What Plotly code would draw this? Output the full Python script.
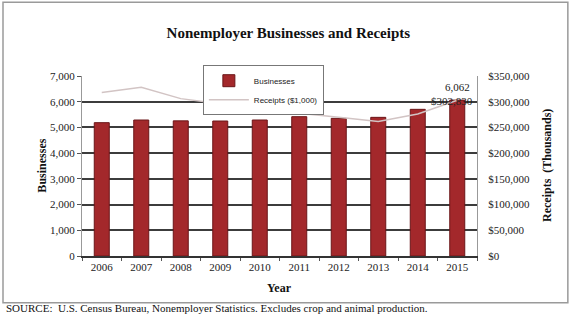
import plotly.graph_objects as go

years = ["2006", "2007", "2008", "2009", "2010", "2011", "2012", "2013", "2014", "2015"]
businesses = [5185, 5289, 5255, 5250, 5289, 5418, 5354, 5392, 5704, 6062]
receipts = [318000, 328000, 306000, 296000, 290000, 277500, 269700, 261500, 276000, 302830]

FONT = "Liberation Serif"
BAR_RED = "#A3282B"
last = len(years) - 1

fig = go.Figure()

fig.add_trace(go.Bar(
    x=years, y=businesses, name="Businesses",
    marker=dict(color=BAR_RED, line=dict(color="#6B1618", width=1)),
    width=0.38,
))
fig.add_trace(go.Scatter(
    x=years, y=receipts, name="Receipts ($1,000)", yaxis="y2",
    mode="lines", line=dict(color="#D2C4C4", width=1.5),
))

# data labels on the last year
fig.add_annotation(x=last, y=businesses[-1], yref="y", text=f"{businesses[-1]:,}",
                   showarrow=False, yshift=13, font=dict(family=FONT, size=11, color="#222"))
fig.add_annotation(x=last, y=receipts[-1], yref="y2", text=f"${receipts[-1]:,}",
                   showarrow=False, yshift=-1, xshift=-5,
                   font=dict(family=FONT, size=11, color="#222"))

# axis titles and notes
fig.add_annotation(xref="paper", yref="paper", x=-0.125, y=0.5, text="<b>Businesses</b>",
                   textangle=-90, showarrow=False, font=dict(family=FONT, size=12, color="#111"))
fig.add_annotation(xref="paper", yref="paper", x=1.2, y=0.5, text="<b>Receipts  (Thousands)</b>",
                   textangle=-90, showarrow=False, font=dict(family=FONT, size=12, color="#111"))
fig.add_annotation(xref="paper", yref="paper", x=0.5, y=-0.23, text="<b>Year</b>",
                   showarrow=False, font=dict(family=FONT, size=12, color="#111"))
fig.add_annotation(xref="paper", yref="paper", x=-0.197, y=-0.335, xanchor="left",
                   text="SOURCE:  U.S. Census Bureau, Nonemployer Statistics. Excludes crop and animal production.",
                   showarrow=False, font=dict(family=FONT, size=11, color="#111"))

# outer chart frame
fig.add_shape(type="rect", xref="paper", yref="paper", x0=-0.2, x1=1.23, y0=-0.26, y1=1.41,
              line=dict(color="#9a9a9a", width=1.5))

fig.update_layout(
    width=571, height=324,
    margin=dict(l=82, r=94, t=76, b=68),
    paper_bgcolor="white", plot_bgcolor="white",
    title=dict(text="<b>Nonemployer Businesses and Receipts</b>", x=0.505, xanchor="center",
               y=0.9, yanchor="middle", font=dict(family=FONT, size=15, color="#111")),
    font=dict(family=FONT, size=11, color="#222"),
    showlegend=True,
    legend=dict(x=0.306, y=1.06, xanchor="left", yanchor="top",
                bgcolor="white", bordercolor="#777", borderwidth=1,
                font=dict(family="Liberation Sans", size=8, color="#222"),
                itemwidth=40, tracegroupgap=0),
    xaxis=dict(type="category", range=[-0.5, last + 0.5], autorange=False,
               showline=True, linecolor="#333", linewidth=1.5,
               ticks="outside", tickson="boundaries", ticklen=3, tickcolor="#555",
               tickangle=0, tickfont=dict(family=FONT, size=11)),
    yaxis=dict(range=[0, 7000], dtick=1000, tickformat=",", showgrid=True,
               gridcolor="#3c3c3c", gridwidth=1.5, showline=True, linecolor="#999",
               ticks="outside", ticklen=4, tickcolor="#555", zeroline=False,
               tickfont=dict(family=FONT, size=11)),
    yaxis2=dict(range=[0, 350000], dtick=50000, tickprefix="$", tickformat=",",
                overlaying="y", side="right", showgrid=False, zeroline=False,
                showline=True, linecolor="#999", ticklabelstandoff=8,
                tickfont=dict(family=FONT, size=11)),
)

# drop the default page margin so the figure sits at the window's top-left corner
fig.write_html("out.html", config={"displayModeBar": False},
               post_script="document.body.style.margin='0';")
